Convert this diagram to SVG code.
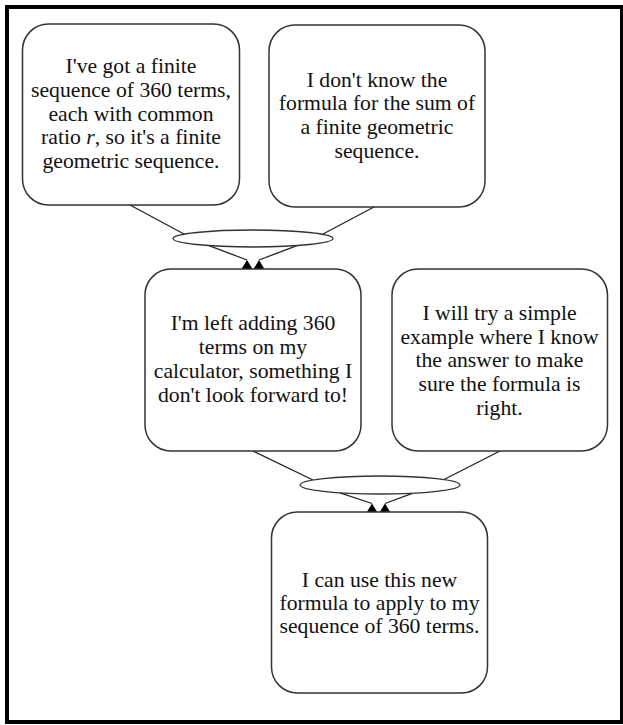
<svg xmlns="http://www.w3.org/2000/svg" width="623" height="725" viewBox="0 0 623 725">
<style>
.frame{fill:#fff;stroke:#000;stroke-width:4}
.node rect{fill:#fff;stroke:#333;stroke-width:1.5}
.hub{fill:#fff;stroke:#333;stroke-width:1.3}
text{font-family:'Liberation Serif','Times New Roman',Times,'DejaVu Serif','Noto Serif',serif;font-size:21.7px;fill:#111;text-anchor:middle}
.edge{stroke:#222;stroke-width:1.3;fill:none}
.edge.in{marker-end:url(#tri)}
</style>
<defs>
<marker id="tri" markerUnits="userSpaceOnUse" markerWidth="14" markerHeight="12" viewBox="-7 -1 14 12" refX="0" refY="0" orient="0">
<path d="M-5.5,9 L0,0 L5.5,9 Z" fill="#000"/>
</marker>
</defs>
<rect class="frame" x="7" y="7" width="615" height="715"/>
<g id="connectors">
<line class="edge" x1="130" y1="205" x2="184" y2="234"/>
<line class="edge" x1="374" y1="207" x2="323" y2="234"/>
<line class="edge in" x1="209" y1="245.6" x2="247" y2="260"/>
<line class="edge in" x1="297" y1="245.6" x2="259" y2="260"/>
<line class="edge" x1="253" y1="451" x2="313" y2="480"/>
<line class="edge" x1="500" y1="451" x2="444" y2="479.5"/>
<line class="edge in" x1="340" y1="492.8" x2="372" y2="503.5"/>
<line class="edge in" x1="413" y1="493.2" x2="385" y2="503.5"/>
</g>
<g id="hub1"><ellipse class="hub" cx="253" cy="238.5" rx="80" ry="8.5"/></g>
<g id="hub2"><ellipse class="hub" cx="380" cy="485" rx="80" ry="9"/></g>
<g id="nodeA" class="node">
<rect x="22.5" y="24" width="217" height="181" rx="26" ry="26"/>
<text x="131" y="73.3">I've got a finite</text>
<text x="131" y="97">sequence of 360 terms,</text>
<text x="131" y="120.7">each with common</text>
<text x="131" y="144.4">ratio <tspan font-style="italic">r</tspan>, so it's a finite</text>
<text x="131" y="168">geometric sequence.</text>
</g>
<g id="nodeB" class="node">
<rect x="269" y="25" width="216" height="182" rx="26" ry="26"/>
<text x="377" y="86.7">I don't know the</text>
<text x="377" y="110.4">formula for the sum of</text>
<text x="377" y="134">a finite geometric</text>
<text x="377" y="157.8">sequence.</text>
</g>
<g id="nodeC" class="node">
<rect x="145" y="269" width="216" height="182" rx="26" ry="26"/>
<text x="253" y="330">I'm left adding 360</text>
<text x="253" y="354">terms on my</text>
<text x="253" y="378">calculator, something I</text>
<text x="253" y="401.7">don't look forward to!</text>
</g>
<g id="nodeD" class="node">
<rect x="392" y="269" width="215.5" height="182" rx="26" ry="26"/>
<text x="499.5" y="320">I will try a simple</text>
<text x="499.5" y="343.7">example where I know</text>
<text x="499.5" y="367.3">the answer to make</text>
<text x="499.5" y="391">sure the formula is</text>
<text x="499.5" y="414.7">right.</text>
</g>
<g id="nodeE" class="node">
<rect x="271.5" y="512" width="216" height="181" rx="26" ry="26"/>
<text x="379.5" y="586.7">I can use this new</text>
<text x="379.5" y="610">formula to apply to my</text>
<text x="379.5" y="633.3">sequence of 360 terms.</text>
</g>
</svg>
